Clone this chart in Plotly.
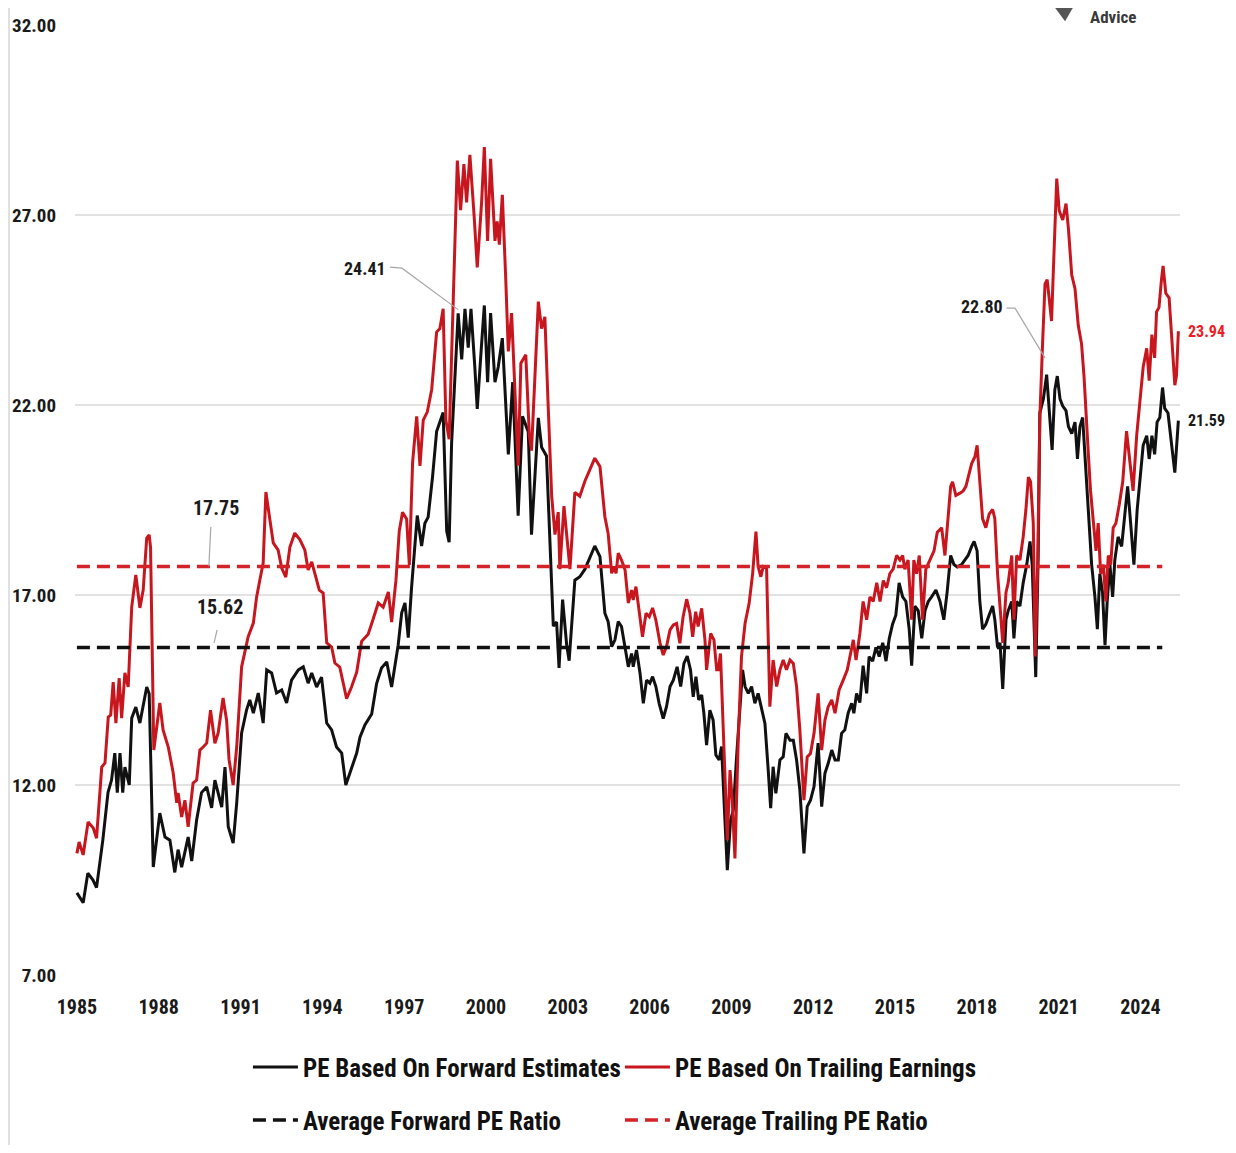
import plotly.graph_objects as go

# ---------------- data ----------------
fwd_years = [1985.0, 1985.23, 1985.40, 1985.59, 1985.72, 1985.95, 1986.14, 1986.27, 1986.39, 1986.48,
             1986.58, 1986.68, 1986.76, 1986.92, 1987.01, 1987.16, 1987.31, 1987.56, 1987.65, 1987.80,
             1988.04, 1988.23, 1988.41, 1988.59, 1988.71, 1988.84, 1989.08, 1989.21, 1989.39, 1989.57,
             1989.76, 1989.94, 1990.06, 1990.31, 1990.43, 1990.55, 1990.73, 1990.86, 1991.04, 1991.22,
             1991.34, 1991.47, 1991.65, 1991.83, 1991.96, 1992.14, 1992.32, 1992.51, 1992.69, 1992.87,
             1993.12, 1993.30, 1993.48, 1993.61, 1993.79, 1993.97, 1994.16, 1994.34, 1994.52, 1994.71,
             1994.86, 1995.01, 1995.26, 1995.38, 1995.56, 1995.81, 1995.99, 1996.17, 1996.36, 1996.54,
             1996.66, 1996.78, 1996.91, 1997.03, 1997.15, 1997.27, 1997.48, 1997.64, 1997.76, 1997.88,
             1998.04, 1998.19, 1998.31, 1998.43, 1998.56, 1998.65, 1998.74, 1998.98, 1999.11, 1999.23,
             1999.35, 1999.45, 1999.59, 1999.68, 1999.84, 1999.94, 2000.06, 2000.17, 2000.33, 2000.45,
             2000.60, 2000.70, 2000.82, 2000.98, 2001.10, 2001.18, 2001.34, 2001.55, 2001.67, 2001.92,
             2002.04, 2002.22, 2002.47, 2002.59, 2002.68, 2002.81, 2002.96, 2003.05, 2003.26, 2003.44,
             2003.63, 2003.81, 2003.99, 2004.18, 2004.36, 2004.48, 2004.61, 2004.73, 2004.85, 2004.97,
             2005.10, 2005.22, 2005.34, 2005.40, 2005.52, 2005.65, 2005.77, 2005.89, 2006.01, 2006.11,
             2006.23, 2006.35, 2006.50, 2006.62, 2006.75, 2006.87, 2007.01, 2007.14, 2007.26, 2007.38,
             2007.50, 2007.60, 2007.70, 2007.80, 2007.91, 2007.99, 2008.09, 2008.21, 2008.33, 2008.43,
             2008.55, 2008.64, 2008.74, 2008.85, 2008.97, 2009.07, 2009.19, 2009.31, 2009.41, 2009.50,
             2009.62, 2009.74, 2009.86, 2009.98, 2010.11, 2010.23, 2010.35, 2010.44, 2010.53, 2010.63,
             2010.78, 2010.90, 2011.00, 2011.15, 2011.27, 2011.39, 2011.51, 2011.66, 2011.78, 2011.90,
             2012.03, 2012.18, 2012.31, 2012.43, 2012.55, 2012.68, 2012.80, 2012.92, 2013.04, 2013.16,
             2013.28, 2013.41, 2013.49, 2013.59, 2013.71, 2013.83, 2013.96, 2014.05, 2014.18, 2014.30,
             2014.42, 2014.55, 2014.67, 2014.79, 2014.91, 2015.03, 2015.15, 2015.28, 2015.40, 2015.52,
             2015.61, 2015.73, 2015.85, 2015.98, 2016.10, 2016.22, 2016.34, 2016.50, 2016.65, 2016.79,
             2016.91, 2017.04, 2017.16, 2017.28, 2017.44, 2017.56, 2017.68, 2017.81, 2017.90, 2018.01,
             2018.11, 2018.21, 2018.33, 2018.45, 2018.58, 2018.66, 2018.76, 2018.85, 2018.95, 2019.07,
             2019.15, 2019.28, 2019.36, 2019.46, 2019.58, 2019.70, 2019.83, 2019.95, 2020.03, 2020.16,
             2020.25, 2020.31, 2020.44, 2020.56, 2020.66, 2020.76, 2020.86, 2020.95, 2021.05, 2021.15,
             2021.27, 2021.36, 2021.48, 2021.60, 2021.69, 2021.78, 2021.88, 2021.96, 2022.05, 2022.12,
             2022.21, 2022.33, 2022.42, 2022.51, 2022.61, 2022.70, 2022.78, 2022.88, 2022.98, 2023.06,
             2023.18, 2023.31, 2023.43, 2023.53, 2023.64, 2023.76, 2023.88, 2023.98, 2024.10, 2024.23,
             2024.32, 2024.42, 2024.52, 2024.61, 2024.71, 2024.81, 2024.89, 2025.01, 2025.14, 2025.26,
             2025.39]
fwd_pe = [9.16, 8.90, 9.68, 9.50, 9.30, 10.55, 11.80, 12.13, 12.84, 11.80,
          12.84, 11.80, 12.47, 12.00, 13.76, 14.05, 13.63, 14.58, 14.40, 9.84,
          11.26, 10.63, 10.55, 9.70, 10.30, 9.84, 10.63, 10.00, 11.08, 11.80,
          11.95, 11.40, 12.13, 11.42, 12.47, 10.90, 10.47, 11.53, 13.37, 13.97,
          14.24, 13.89, 14.42, 13.63, 15.03, 14.95, 14.42, 14.50, 14.16, 14.76,
          15.03, 15.11, 14.68, 14.95, 14.58, 14.84, 13.63, 13.45, 13.00, 12.84,
          12.00, 12.32, 12.84, 13.26, 13.58, 13.87, 14.67, 15.08, 15.24, 14.58,
          15.18, 15.68, 16.53, 16.79, 15.88, 17.18, 19.09, 18.29, 18.89, 19.05,
          20.10, 21.30, 21.55, 21.80, 18.68, 18.39, 21.00, 24.41, 23.20, 24.53,
          23.51, 24.53, 23.01, 21.90, 23.61, 24.62, 22.60, 24.42, 22.60, 23.00,
          23.76, 22.30, 20.70, 22.60, 20.40, 19.09, 21.70, 21.30, 18.59, 21.66,
          20.89, 20.66, 16.18, 16.29, 15.08, 16.88, 15.68, 15.27, 17.39, 17.48,
          17.68, 17.99, 18.29, 18.01, 16.52, 16.30, 15.64, 15.82, 16.30, 16.17,
          15.64, 15.11, 15.46, 15.11, 15.55, 14.94, 14.15, 14.76, 14.68, 14.85,
          14.59, 14.15, 13.75, 14.06, 14.59, 14.76, 15.11, 14.59, 15.20, 15.39,
          15.03, 14.32, 14.85, 14.24, 14.37, 13.89, 13.05, 13.97, 13.71, 12.79,
          12.66, 13.01, 11.43, 9.76, 11.08, 11.34, 12.74, 13.89, 15.03, 14.59,
          14.41, 14.59, 14.15, 14.41, 13.97, 13.62, 12.39, 11.39, 12.48, 11.78,
          12.66, 12.74, 13.36, 13.18, 13.18, 12.66, 11.87, 10.20, 11.43, 11.60,
          11.96, 13.10, 11.43, 12.31, 12.57, 12.92, 12.66, 12.66, 13.36, 13.45,
          13.89, 14.15, 13.89, 14.41, 14.17, 15.14, 14.41, 15.38, 15.26, 15.62,
          15.38, 15.74, 15.26, 15.86, 16.23, 16.47, 17.32, 16.95, 16.83, 16.10,
          15.14, 16.71, 16.59, 15.86, 16.59, 16.83, 16.95, 17.13, 16.83, 16.35,
          17.07, 18.04, 17.80, 17.74, 17.80, 17.92, 18.04, 18.28, 18.41, 18.16,
          16.83, 16.10, 16.23, 16.47, 16.71, 16.35, 15.62, 15.74, 14.53, 16.35,
          16.59, 16.83, 15.86, 16.83, 16.71, 17.32, 17.80, 18.41, 17.80, 14.84,
          18.04, 21.79, 22.16, 22.80, 21.67, 20.82, 22.40, 22.76, 22.16, 21.97,
          21.85, 21.43, 21.25, 21.55, 20.58, 21.43, 21.67, 20.70, 19.74, 18.89,
          17.80, 16.95, 16.10, 17.56, 17.07, 15.68, 16.83, 17.80, 16.95, 17.92,
          18.53, 18.28, 19.25, 19.86, 18.89, 17.80, 19.25, 19.98, 20.94, 21.19,
          20.58, 21.19, 20.70, 21.55, 21.67, 22.46, 21.91, 21.79, 20.94, 20.22,
          21.59]

trl_years = [1985.0, 1985.08, 1985.23, 1985.41, 1985.60, 1985.72, 1985.91, 1986.03, 1986.15, 1986.24,
             1986.33, 1986.43, 1986.55, 1986.64, 1986.76, 1986.88, 1987.01, 1987.16, 1987.31, 1987.43,
             1987.56, 1987.65, 1987.70, 1987.82, 1988.04, 1988.16, 1988.35, 1988.53, 1988.66, 1988.71,
             1988.84, 1988.96, 1989.08, 1989.26, 1989.39, 1989.51, 1989.63, 1989.76, 1989.90, 1990.06,
             1990.18, 1990.36, 1990.49, 1990.58, 1990.73, 1990.86, 1991.04, 1991.28, 1991.47, 1991.59,
             1991.71, 1991.83, 1991.93, 1992.05, 1992.20, 1992.38, 1992.51, 1992.66, 1992.81, 1992.99,
             1993.18, 1993.36, 1993.48, 1993.61, 1993.73, 1993.89, 1994.03, 1994.16, 1994.34, 1994.46,
             1994.64, 1994.89, 1995.07, 1995.26, 1995.44, 1995.68, 1995.87, 1996.05, 1996.23, 1996.42,
             1996.54, 1996.70, 1996.82, 1996.94, 1997.09, 1997.19, 1997.31, 1997.46, 1997.58, 1997.70,
             1997.85, 1998.01, 1998.19, 1998.31, 1998.43, 1998.53, 1998.65, 1998.80, 1998.95, 1999.07,
             1999.19, 1999.29, 1999.41, 1999.57, 1999.68, 1999.84, 1999.94, 2000.06, 2000.17, 2000.33,
             2000.41, 2000.49, 2000.60, 2000.72, 2000.82, 2000.94, 2001.06, 2001.18, 2001.28, 2001.46,
             2001.59, 2001.67, 2001.80, 2001.92, 2002.04, 2002.16, 2002.28, 2002.41, 2002.53, 2002.65,
             2002.71, 2002.86, 2003.08, 2003.26, 2003.44, 2003.63, 2003.81, 2003.99, 2004.18, 2004.36,
             2004.48, 2004.61, 2004.69, 2004.77, 2004.85, 2004.97, 2005.10, 2005.22, 2005.34, 2005.40,
             2005.50, 2005.62, 2005.74, 2005.87, 2005.99, 2006.11, 2006.23, 2006.38, 2006.50, 2006.62,
             2006.75, 2006.87, 2006.99, 2007.11, 2007.23, 2007.36, 2007.48, 2007.58, 2007.69, 2007.78,
             2007.91, 2008.03, 2008.09, 2008.24, 2008.36, 2008.46, 2008.52, 2008.60, 2008.73, 2008.85,
             2008.95, 2009.03, 2009.13, 2009.25, 2009.37, 2009.50, 2009.65, 2009.78, 2009.90, 2009.98,
             2010.08, 2010.17, 2010.29, 2010.41, 2010.53, 2010.66, 2010.78, 2010.90, 2011.02, 2011.15,
             2011.27, 2011.39, 2011.51, 2011.66, 2011.78, 2011.90, 2012.03, 2012.18, 2012.31, 2012.43,
             2012.55, 2012.68, 2012.80, 2012.95, 2013.10, 2013.25, 2013.37, 2013.47, 2013.57, 2013.71,
             2013.83, 2013.96, 2014.08, 2014.20, 2014.33, 2014.45, 2014.57, 2014.69, 2014.81, 2014.93,
             2015.06, 2015.18, 2015.28, 2015.36, 2015.48, 2015.61, 2015.69, 2015.79, 2015.89, 2016.01,
             2016.13, 2016.28, 2016.43, 2016.55, 2016.71, 2016.83, 2016.95, 2017.04, 2017.11, 2017.23,
             2017.38, 2017.50, 2017.60, 2017.69, 2017.81, 2017.93, 2018.01, 2018.11, 2018.21, 2018.33,
             2018.45, 2018.58, 2018.66, 2018.76, 2018.85, 2018.95, 2019.07, 2019.15, 2019.28, 2019.36,
             2019.46, 2019.58, 2019.70, 2019.80, 2019.89, 2019.97, 2020.07, 2020.14, 2020.23, 2020.31,
             2020.41, 2020.50, 2020.58, 2020.66, 2020.74, 2020.80, 2020.93, 2021.02, 2021.15, 2021.27,
             2021.36, 2021.48, 2021.60, 2021.72, 2021.84, 2021.93, 2022.00, 2022.09, 2022.17, 2022.27,
             2022.37, 2022.45, 2022.54, 2022.64, 2022.73, 2022.82, 2022.91, 2023.00, 2023.10, 2023.22,
             2023.35, 2023.49, 2023.61, 2023.73, 2023.86, 2023.98, 2024.10, 2024.23, 2024.32, 2024.42,
             2024.52, 2024.59, 2024.68, 2024.77, 2024.83, 2024.93, 2025.05, 2025.14, 2025.26, 2025.32,
             2025.39]
trl_pe = [10.20, 10.50, 10.16, 11.03, 10.87, 10.60, 12.47, 12.58, 13.79, 13.84,
          14.71, 13.63, 14.81, 13.76, 14.95, 14.58, 16.68, 17.53, 16.66, 17.13,
          18.50, 18.58, 18.26, 12.92, 14.16, 13.45, 13.00, 12.32, 11.53, 11.79,
          11.16, 11.60, 10.90, 12.05, 12.13, 12.92, 13.00, 13.10, 13.97, 13.10,
          13.37, 14.29, 13.70, 12.66, 12.00, 13.00, 15.11, 15.90, 16.26, 16.95,
          17.40, 17.84, 19.71, 19.16, 18.37, 18.18, 17.71, 17.47, 18.26, 18.63,
          18.45, 18.18, 17.66, 17.87, 17.53, 17.13, 17.05, 15.74, 15.63, 15.21,
          15.10, 14.27, 14.58, 14.97, 15.78, 15.97, 16.38, 16.79, 16.68, 17.08,
          16.29, 17.39, 18.68, 19.18, 19.00, 17.79, 20.50, 21.70, 20.40, 21.60,
          21.82, 22.41, 23.92, 24.01, 24.53, 21.60, 21.10, 24.82, 28.43, 27.13,
          28.34, 27.33, 28.58, 26.93, 25.62, 27.33, 28.79, 26.32, 28.48, 26.32,
          26.83, 26.22, 27.53, 25.42, 23.41, 24.42, 22.30, 20.40, 23.10, 23.32,
          21.20, 20.80, 22.82, 24.72, 24.01, 24.32, 22.00, 19.60, 18.59, 19.18,
          17.68, 19.34, 17.68, 19.70, 19.60, 20.00, 20.30, 20.60, 20.38, 19.06,
          18.62, 17.57, 17.75, 17.57, 18.10, 17.92, 17.66, 16.79, 17.13, 16.87,
          17.22, 16.52, 15.90, 16.52, 16.43, 16.66, 16.34, 15.74, 15.42, 15.64,
          16.08, 16.21, 16.25, 15.73, 16.43, 16.89, 16.52, 15.90, 16.56, 16.17,
          16.65, 15.82, 15.03, 15.99, 15.82, 15.03, 15.03, 15.46, 12.92, 10.55,
          12.39, 11.60, 10.07, 13.18, 15.38, 16.25, 16.78, 17.57, 18.67, 17.75,
          17.48, 17.75, 17.70, 14.06, 15.29, 14.59, 15.03, 15.29, 15.03, 15.29,
          15.20, 14.59, 13.45, 11.60, 12.74, 12.83, 13.36, 14.41, 12.92, 13.71,
          14.06, 14.24, 13.89, 14.50, 14.76, 15.03, 15.46, 15.82, 15.29, 15.98,
          16.83, 16.35, 16.95, 16.83, 17.32, 16.83, 17.38, 17.19, 17.56, 17.68,
          18.04, 17.92, 18.04, 17.68, 17.92, 16.35, 17.92, 17.56, 18.04, 16.35,
          17.68, 17.92, 18.16, 18.65, 18.77, 18.04, 19.01, 19.86, 19.98, 19.62,
          19.68, 19.74, 19.86, 20.10, 20.46, 20.64, 20.94, 19.98, 19.01, 18.77,
          19.13, 19.25, 19.01, 17.56, 16.59, 15.74, 17.07, 17.32, 18.04, 16.35,
          18.04, 17.92, 18.53, 19.25, 20.10, 19.98, 18.89, 15.38, 17.80, 21.67,
          23.61, 25.18, 25.30, 24.70, 24.21, 25.42, 27.96, 27.12, 26.87, 27.30,
          26.63, 25.42, 25.06, 24.09, 23.61, 22.76, 21.67, 20.70, 19.74, 19.01,
          18.16, 18.89, 17.56, 17.80, 16.83, 18.04, 17.80, 18.77, 18.89, 19.37,
          19.98, 21.31, 20.58, 19.74, 21.19, 22.16, 23.00, 23.49, 22.64, 23.85,
          23.24, 24.45, 24.57, 25.30, 25.66, 24.94, 24.82, 23.85, 22.52, 22.76,
          23.94]

avg_fwd_pe = 15.62
avg_trl_pe = 17.75
avg_span = [1985.0, 2024.8]

tick_years = [1985, 1988, 1991, 1994, 1997, 2000, 2003, 2006, 2009, 2012, 2015, 2018, 2021, 2024]
y_ticks = [7, 12, 17, 22, 27, 32]

peak_fwd_1 = (1998.98, 24.41)
peak_fwd_2 = (2020.56, 22.80)

# ---------------- styling ----------------
FONT = "Liberation Sans Narrow, Arial Narrow, Roboto Condensed, DejaVu Sans Condensed, sans-serif"
BLACK = "#111111"
RED = "#c8161e"
RED_DASH = "#d42229"
LABEL_RED = "#ee1c25"
GRID = "#e2e2e2"
LEADER = "#a8a8a8"

fig = go.Figure()

fig.add_trace(go.Scatter(x=fwd_years, y=fwd_pe, mode="lines", name="PE Based On Forward Estimates",
                         line=dict(color=BLACK, width=3), legend="legend"))
fig.add_trace(go.Scatter(x=trl_years, y=trl_pe, mode="lines", name="PE Based On Trailing Earnings",
                         line=dict(color=RED, width=3), legend="legend"))
fig.add_trace(go.Scatter(x=avg_span, y=[avg_fwd_pe, avg_fwd_pe], mode="lines", name="Average Forward PE Ratio",
                         line=dict(color=BLACK, width=3.5, dash="13px,7px"), legend="legend2"))
fig.add_trace(go.Scatter(x=avg_span, y=[avg_trl_pe, avg_trl_pe], mode="lines", name="Average Trailing PE Ratio",
                         line=dict(color=RED_DASH, width=3.5, dash="13px,7px"), legend="legend2"))

ann_font = dict(family=FONT, size=19, color="#1a1a1a", weight="bold")
annotations = [
    dict(x=avg_span[0] + 5.1, y=avg_trl_pe + 1.55, xref="x", yref="y", text=f"{avg_trl_pe:.2f}",
         showarrow=False, font=dict(ann_font, size=20)),
    dict(x=avg_span[0] + 5.25, y=avg_fwd_pe + 1.06, xref="x", yref="y", text=f"{avg_fwd_pe:.2f}",
         showarrow=False, font=dict(ann_font, size=20)),
    dict(x=peak_fwd_1[0] - 3.42, y=peak_fwd_1[1] + 1.19, xref="x", yref="y", text=f"{peak_fwd_1[1]:.2f}",
         showarrow=False, font=dict(ann_font, size=18)),
    dict(x=peak_fwd_2[0] - 2.37, y=peak_fwd_2[1] + 1.78, xref="x", yref="y", text=f"{peak_fwd_2[1]:.2f}",
         showarrow=False, font=dict(ann_font, size=18)),
    dict(x=1, y=trl_pe[-1], xref="paper", yref="y", xanchor="left", xshift=6, text=f"{trl_pe[-1]:.2f}",
         showarrow=False, font=dict(ann_font, size=16, color=LABEL_RED)),
    dict(x=1, y=fwd_pe[-1], xref="paper", yref="y", xanchor="left", xshift=6, text=f"{fwd_pe[-1]:.2f}",
         showarrow=False, font=dict(ann_font, size=16)),
    dict(x=0.962, y=1.0, xref="paper", yref="paper", yanchor="bottom", yshift=-4, text="Advice",
         showarrow=False, font=dict(family=FONT, size=17, color="#3a3a3a", weight="bold")),
]

shapes = [
    # leader lines
    dict(type="line", xref="x", yref="y", x0=avg_span[0] + 4.91, y0=avg_trl_pe + 1.04,
         x1=avg_span[0] + 4.84, y1=avg_trl_pe + 0.01, line=dict(color=LEADER, width=1.2)),
    dict(type="line", xref="x", yref="y", x0=avg_span[0] + 5.14, y0=avg_fwd_pe + 0.46,
         x1=avg_span[0] + 5.03, y1=avg_fwd_pe + 0.12, line=dict(color=LEADER, width=1.2)),
    dict(type="path", xref="x", yref="y",
         path=f"M {peak_fwd_1[0]-2.5},{peak_fwd_1[1]+1.22} L {peak_fwd_1[0]-2.06},{peak_fwd_1[1]+1.19} "
              f"L {peak_fwd_1[0]},{peak_fwd_1[1]+0.1}",
         line=dict(color=LEADER, width=1.2)),
    dict(type="path", xref="x", yref="y",
         path=f"M {peak_fwd_2[0]-1.47},{peak_fwd_2[1]+1.75} L {peak_fwd_2[0]-1.16},{peak_fwd_2[1]+1.75} "
              f"L {peak_fwd_2[0]-0.06},{peak_fwd_2[1]+0.44}",
         line=dict(color=LEADER, width=1.2)),
    # left image border
    dict(type="line", xref="paper", yref="paper", x0=-0.0597, x1=-0.0597, y0=-0.19, y1=1.02,
         line=dict(color="#d6d6d6", width=1.5)),
    # logo shield (partial)
    dict(type="path", xref="paper", yref="paper",
         path="M 0.887,1.018 L 0.903,1.018 L 0.896,1.004 Z", fillcolor="#555555", line=dict(width=0)),
]

legend_common = dict(orientation="h", xanchor="left", yanchor="middle", x=0.1565,
                     font=dict(family=FONT, size=25, color="#111111", weight="bold"),
                     entrywidth=312, entrywidthmode="pixels", itemwidth=45,
                     bgcolor="rgba(0,0,0,0)", borderwidth=0, tracegroupgap=0)

# page body has an 8px default margin; size the figure so that it fits the window without scrolling
fig.update_layout(
    width=1220, height=1137,
    margin=dict(l=67, r=48, t=17, b=170, autoexpand=False),
    paper_bgcolor="white", plot_bgcolor="white",
    font=dict(family=FONT, color="#1a1a1a"),
    showlegend=True,
    legend=dict(legend_common, y=-0.097),
    legend2=dict(legend_common, y=-0.153),
    annotations=annotations,
    shapes=shapes,
    xaxis=dict(range=[1984.93, 2025.45], tickmode="array", tickvals=tick_years,
               ticktext=[str(t) for t in tick_years], showgrid=False, zeroline=False,
               showline=False, ticks="", ticklabelstandoff=18, automargin=False,
               tickfont=dict(family=FONT, size=20, color="#1a1a1a", weight="bold")),
    yaxis=dict(range=[7, 32], tickmode="array", tickvals=y_ticks, tickformat=".2f",
               showgrid=True, gridcolor=GRID, gridwidth=2, zeroline=False, showline=False,
               ticks="", ticklabelstandoff=18, automargin=False,
               tickfont=dict(family=FONT, size=19, color="#1a1a1a", weight="bold")),
)

fig.write_html("out.html")
